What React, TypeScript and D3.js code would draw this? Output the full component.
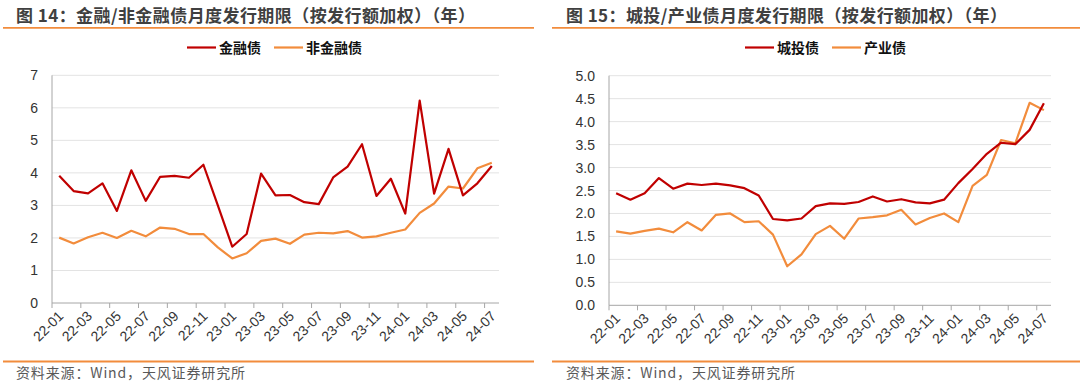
import React from "react";
import * as d3 from "d3";

const months: string[] = [
  "22-01","22-02","22-03","22-04","22-05","22-06","22-07","22-08","22-09","22-10","22-11","22-12",
  "23-01","23-02","23-03","23-04","23-05","23-06","23-07","23-08","23-09","23-10","23-11","23-12",
  "24-01","24-02","24-03","24-04","24-05","24-06","24-07",
];

const finBond: number[] = [3.91,3.44,3.37,3.68,2.83,4.08,3.14,3.88,3.91,3.85,4.25,3.0,
  1.73,2.12,3.98,3.31,3.32,3.10,3.04,3.86,4.19,4.88,3.29,3.82,
  2.75,6.22,3.36,4.74,3.31,3.68,4.21];
const nonFinBond: number[] = [2.01,1.83,2.02,2.16,2.0,2.22,2.05,2.32,2.28,2.12,2.12,1.71,
  1.37,1.53,1.91,1.98,1.82,2.10,2.16,2.14,2.21,2.01,2.05,2.16,
  2.26,2.77,3.06,3.58,3.52,4.14,4.31];

const lgfvBond: number[] = [2.44,2.30,2.44,2.77,2.54,2.65,2.62,2.65,2.61,2.55,2.39,1.88,
  1.85,1.89,2.16,2.22,2.21,2.25,2.37,2.26,2.31,2.24,2.22,2.30,
  2.66,2.97,3.30,3.54,3.51,3.82,4.40];
const industrialBond: number[] = [1.61,1.56,1.62,1.67,1.59,1.81,1.63,1.97,2.00,1.81,1.83,1.54,
  0.85,1.11,1.55,1.73,1.45,1.89,1.92,1.96,2.08,1.76,1.90,2.00,
  1.81,2.60,2.84,3.60,3.53,4.41,4.25];

const leftTicks: number[] = [0,1,2,3,4,5,6,7];
const rightTicks: number[] = [0,0.5,1,1.5,2,2.5,3,3.5,4,4.5,5];

const RED = "#c00000";
const ORANGE = "#f28c3c";
const CN = "'Noto Sans CJK SC', 'Liberation Sans', sans-serif";
const NUM = "'Liberation Sans', Arial, sans-serif";

type PanelProps = {
  title: string;
  titleW: number;
  names: [string, string];
  s1: number[];
  s2: number[];
  ticks: number[];
  fmt: (v: number) => string;
  x0: number; x1: number; yTop: number; yBot: number;
  legendX: number;
  lineL: number; lineR: number;
  titleX: number;
};

function Panel(p: PanelProps) {
  const x = d3.scaleBand<string>().domain(months).range([p.x0, p.x1]);
  const y = d3.scaleLinear().domain([p.ticks[0], p.ticks[p.ticks.length - 1]]).range([p.yBot, p.yTop]);
  const line = d3.line<number>()
    .x((_, i) => (x(months[i]) as number) + x.bandwidth() / 2)
    .y((v) => y(v));
  const tickIdx = months.map((_, i) => i).filter((i) => i % 2 === 0);
  const bw = x.bandwidth();
  const lx = p.legendX;
  const n1w = p.names[0].length * 14;
  return (
    <g>
      <text x={p.titleX} y={21.5} fontFamily={CN} fontSize={17} fontWeight={700} fill="#404040"
        textLength={p.titleW} lengthAdjust="spacing">{p.title}</text>
      <line x1={p.lineL} x2={p.lineR} y1={27.8} y2={27.8} stroke={ORANGE} strokeWidth={1.8} />
      {/* legend */}
      <line x1={lx} x2={lx + 29} y1={47.5} y2={47.5} stroke={RED} strokeWidth={2.2} />
      <text x={lx + 32} y={52.5} fontFamily={CN} fontSize={14} fontWeight={700} fill="#111">{p.names[0]}</text>
      <line x1={lx + 32 + n1w + 13} x2={lx + 32 + n1w + 42} y1={47.5} y2={47.5} stroke={ORANGE} strokeWidth={2.2} />
      <text x={lx + 32 + n1w + 45} y={52.5} fontFamily={CN} fontSize={14} fontWeight={700} fill="#111">{p.names[1]}</text>
      {/* grid */}
      {p.ticks.map((t) => (
        <g key={t}>
          {t !== p.ticks[0] && (
            <line x1={p.x0} x2={p.x1} y1={y(t)} y2={y(t)} stroke="#e3e3e3" strokeWidth={1} />
          )}
          <text x={p.x0 - 14} y={y(t) + 5} textAnchor="end" fontFamily={NUM} fontSize={14} fill="#333">{p.fmt(t)}</text>
        </g>
      ))}
      {/* axes */}
      <line x1={p.x0} x2={p.x0} y1={p.yTop} y2={p.yBot} stroke="#a6a6a6" strokeWidth={1} />
      <line x1={p.x0} x2={p.x1} y1={p.yBot} y2={p.yBot} stroke="#a6a6a6" strokeWidth={1} />
      {tickIdx.map((i) => {
        const tx = x(months[i]) as number;
        const cx = tx + bw / 2;
        return (
          <g key={months[i]}>
            <line x1={tx} x2={tx} y1={p.yBot} y2={p.yBot + 5} stroke="#a6a6a6" />
            <text transform={`translate(${cx + 5},${p.yBot + 14}) rotate(-45)`} textAnchor="end"
              fontFamily={NUM} fontSize={14} fill="#333">{months[i]}</text>
          </g>
        );
      })}
      <path d={line(p.s2) as string} fill="none" stroke={ORANGE} strokeWidth={2.2} strokeLinejoin="round" />
      <path d={line(p.s1) as string} fill="none" stroke={RED} strokeWidth={2.2} strokeLinejoin="round" />
      {/* footer */}
      <line x1={p.lineL} x2={p.lineR} y1={361.5} y2={361.5} stroke={ORANGE} strokeWidth={1.8} />
      <text x={p.titleX} y={378} fontFamily={CN} fontSize={14} fill="#595959"
        textLength={229} lengthAdjust="spacing">资料来源：Wind，天风证券研究所</text>
    </g>
  );
}

export default function App() {
  return (
    <svg width={1080} height={383} style={{ position: "fixed", left: 0, top: 0, background: "#fff" }}>
      <rect width={1080} height={383} fill="#fff" />
      <Panel title="图 14：金融/非金融债月度发行期限（按发行额加权）（年）" titleW={459}
        names={["金融债", "非金融债"]} s1={finBond} s2={nonFinBond}
        ticks={leftTicks} fmt={(v) => String(v)}
        x0={52} x1={499} yTop={75.3} yBot={303} legendX={187}
        lineL={3} lineR={534} titleX={16} />
      <Panel title="图 15：城投/产业债月度发行期限（按发行额加权）（年）" titleW={441}
        names={["城投债", "产业债"]} s1={lgfvBond} s2={industrialBond}
        ticks={rightTicks} fmt={(v) => v.toFixed(1)}
        x0={609} x1={1051} yTop={75.7} yBot={305.3} legendX={745}
        lineL={552} lineR={1080} titleX={566} />
    </svg>
  );
}
